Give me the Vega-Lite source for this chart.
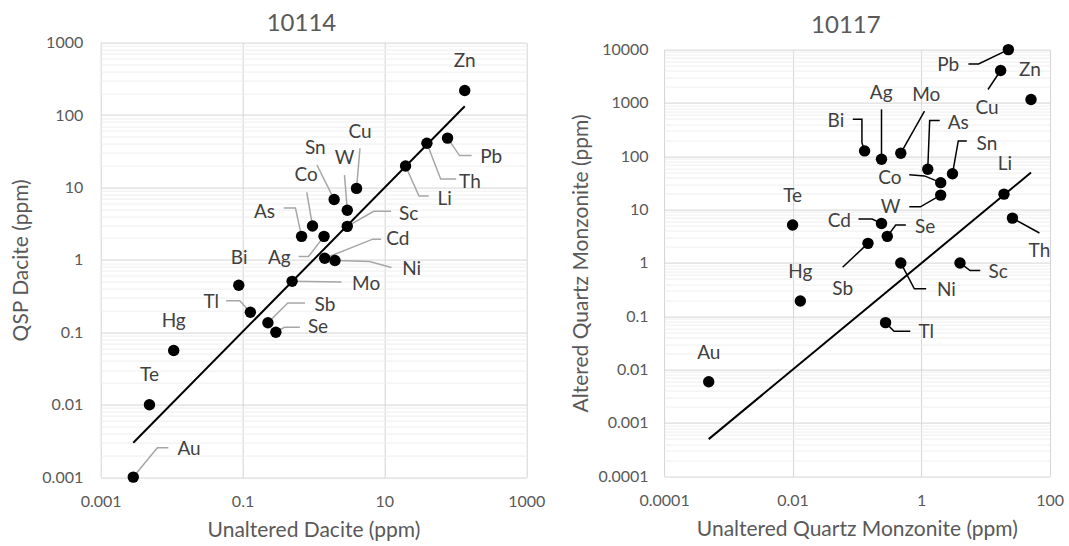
{
  "$schema": "https://vega.github.io/schema/vega-lite/v6.json",
  "background": "white",
  "padding": {"left": 10.7, "top": 11.6, "right": 0, "bottom": 0},
  "spacing": 24.4,
  "datasets": {
    "dacite_pts": [
      {"el": "Zn", "x": 136, "y": 218, "lx": 136, "ly": 556},
      {"el": "Pb", "x": 77.8, "y": 48, "lx": 321, "ly": 26.7},
      {"el": "Th", "x": 39.8, "y": 40.8, "lx": 161, "ly": 12},
      {"el": "Li", "x": 19.9, "y": 19.8, "lx": 71, "ly": 7.0},
      {"el": "Cu", "x": 4.05, "y": 9.7, "lx": 4.53, "ly": 58},
      {"el": "Sn", "x": 1.96, "y": 6.8, "lx": 1.06, "ly": 34.8},
      {"el": "W", "x": 3.0, "y": 4.84, "lx": 2.74, "ly": 25.3},
      {"el": "Sc", "x": 3.0, "y": 2.9, "lx": 22, "ly": 4.3},
      {"el": "Co", "x": 0.97, "y": 2.94, "lx": 0.787, "ly": 14.8},
      {"el": "As", "x": 0.68, "y": 2.11, "lx": 0.204, "ly": 4.6},
      {"el": "Ag", "x": 1.41, "y": 2.11, "lx": 0.33, "ly": 1.05},
      {"el": "Cd", "x": 1.44, "y": 1.05, "lx": 15.5, "ly": 1.91},
      {"el": "Ni", "x": 2.01, "y": 0.98, "lx": 24.2, "ly": 0.75},
      {"el": "Mo", "x": 0.5, "y": 0.505, "lx": 5.53, "ly": 0.464},
      {"el": "Bi", "x": 0.0885, "y": 0.445, "lx": 0.0895, "ly": 1.05},
      {"el": "Tl", "x": 0.129, "y": 0.189, "lx": 0.0362, "ly": 0.262},
      {"el": "Sb", "x": 0.228, "y": 0.135, "lx": 1.45, "ly": 0.235},
      {"el": "Se", "x": 0.295, "y": 0.1, "lx": 1.16, "ly": 0.117},
      {"el": "Hg", "x": 0.0107, "y": 0.0559, "lx": 0.0107, "ly": 0.142},
      {"el": "Te", "x": 0.00487, "y": 0.01, "lx": 0.00487, "ly": 0.026},
      {"el": "Au", "x": 0.00288, "y": 0.001, "lx": 0.0176, "ly": 0.00241}
    ],
    "dacite_leaders": [
      {"el": "Pb", "i": 0, "x": 77.8, "y": 48}, {"el": "Pb", "i": 1, "x": 115, "y": 27.5}, {"el": "Pb", "i": 2, "x": 170, "y": 27.5},
      {"el": "Th", "i": 0, "x": 39.8, "y": 40.8}, {"el": "Th", "i": 1, "x": 62.2, "y": 13.1}, {"el": "Th", "i": 2, "x": 103, "y": 13.1},
      {"el": "Li", "i": 0, "x": 19.9, "y": 19.8}, {"el": "Li", "i": 1, "x": 30.8, "y": 7.59}, {"el": "Li", "i": 2, "x": 42.2, "y": 7.59},
      {"el": "Cu", "i": 0, "x": 4.53, "y": 34.8}, {"el": "Cu", "i": 1, "x": 4.05, "y": 9.7},
      {"el": "Sn", "i": 0, "x": 1.12, "y": 20.4}, {"el": "Sn", "i": 1, "x": 1.96, "y": 6.8},
      {"el": "W", "i": 0, "x": 2.74, "y": 14.8}, {"el": "W", "i": 1, "x": 3.0, "y": 4.84},
      {"el": "Co", "i": 0, "x": 0.805, "y": 8.53}, {"el": "Co", "i": 1, "x": 0.97, "y": 2.94},
      {"el": "As", "i": 0, "x": 0.381, "y": 5.22}, {"el": "As", "i": 1, "x": 0.557, "y": 5.22}, {"el": "As", "i": 2, "x": 0.68, "y": 2.11},
      {"el": "Sc", "i": 0, "x": 3.0, "y": 2.9}, {"el": "Sc", "i": 1, "x": 7.08, "y": 4.69}, {"el": "Sc", "i": 2, "x": 12.4, "y": 4.69},
      {"el": "Cd", "i": 0, "x": 1.44, "y": 1.05}, {"el": "Cd", "i": 1, "x": 6.87, "y": 1.93}, {"el": "Cd", "i": 2, "x": 9.0, "y": 1.93},
      {"el": "Ag", "i": 0, "x": 0.618, "y": 1.11}, {"el": "Ag", "i": 1, "x": 0.851, "y": 1.11}, {"el": "Ag", "i": 2, "x": 1.41, "y": 2.11},
      {"el": "Ni", "i": 0, "x": 2.01, "y": 0.98}, {"el": "Ni", "i": 1, "x": 6.18, "y": 0.95}, {"el": "Ni", "i": 2, "x": 12.6, "y": 0.785},
      {"el": "Mo", "i": 0, "x": 0.5, "y": 0.505}, {"el": "Mo", "i": 1, "x": 2.48, "y": 0.496},
      {"el": "Tl", "i": 0, "x": 0.0586, "y": 0.273}, {"el": "Tl", "i": 1, "x": 0.0914, "y": 0.273}, {"el": "Tl", "i": 2, "x": 0.129, "y": 0.189},
      {"el": "Sb", "i": 0, "x": 0.228, "y": 0.135}, {"el": "Sb", "i": 1, "x": 0.435, "y": 0.254}, {"el": "Sb", "i": 2, "x": 0.76, "y": 0.254},
      {"el": "Se", "i": 0, "x": 0.295, "y": 0.1}, {"el": "Se", "i": 1, "x": 0.39, "y": 0.117}, {"el": "Se", "i": 2, "x": 0.644, "y": 0.117},
      {"el": "Au", "i": 0, "x": 0.00288, "y": 0.001}, {"el": "Au", "i": 1, "x": 0.0063, "y": 0.00254}, {"el": "Au", "i": 2, "x": 0.009, "y": 0.00254}
    ],
    "dacite_trend": [
      {"x": 0.00288, "y": 0.00298},
      {"x": 136, "y": 132}
    ],
    "qm_pts": [
      {"el": "Pb", "x": 22.8, "y": 10000, "lx": 2.64, "ly": 5250},
      {"el": "Cu", "x": 17.3, "y": 4050, "lx": 10.6, "ly": 789},
      {"el": "Zn", "x": 51.4, "y": 1162, "lx": 49.5, "ly": 4110},
      {"el": "Bi", "x": 0.132, "y": 126, "lx": 0.0472, "ly": 457},
      {"el": "Ag", "x": 0.242, "y": 88, "lx": 0.239, "ly": 1548},
      {"el": "Mo", "x": 0.483, "y": 114, "lx": 1.2, "ly": 1380},
      {"el": "As", "x": 1.27, "y": 57, "lx": 3.79, "ly": 426},
      {"el": "Sn", "x": 3.08, "y": 47, "lx": 10.6, "ly": 167},
      {"el": "Co", "x": 2.02, "y": 32, "lx": 0.328, "ly": 39.9},
      {"el": "W", "x": 2.02, "y": 18.7, "lx": 0.336, "ly": 11.0},
      {"el": "Li", "x": 19.5, "y": 19.5, "lx": 20.2, "ly": 70.8},
      {"el": "Th", "x": 26.4, "y": 6.93, "lx": 69.5, "ly": 1.65},
      {"el": "Te", "x": 0.01, "y": 5.13, "lx": 0.01, "ly": 18.2},
      {"el": "Cd", "x": 0.242, "y": 5.5, "lx": 0.0532, "ly": 6.18},
      {"el": "Se", "x": 0.298, "y": 3.15, "lx": 1.16, "ly": 4.77},
      {"el": "Sb", "x": 0.149, "y": 2.33, "lx": 0.0601, "ly": 0.318},
      {"el": "Ni", "x": 0.483, "y": 1, "lx": 2.48, "ly": 0.305},
      {"el": "Sc", "x": 4.03, "y": 1, "lx": 15.8, "ly": 0.671},
      {"el": "Hg", "x": 0.0132, "y": 0.193, "lx": 0.0132, "ly": 0.671},
      {"el": "Tl", "x": 0.28, "y": 0.076, "lx": 1.2, "ly": 0.0509},
      {"el": "Au", "x": 0.000495, "y": 0.00593, "lx": 0.000495, "ly": 0.0209}
    ],
    "qm_leaders": [
      {"el": "Pb", "i": 0, "x": 5.45, "y": 5395}, {"el": "Pb", "i": 1, "x": 7.85, "y": 5395}, {"el": "Pb", "i": 2, "x": 22.8, "y": 10000},
      {"el": "Cu", "i": 0, "x": 17.3, "y": 4050}, {"el": "Cu", "i": 1, "x": 11.0, "y": 1786},
      {"el": "Bi", "i": 0, "x": 0.0865, "y": 492}, {"el": "Bi", "i": 1, "x": 0.12, "y": 492}, {"el": "Bi", "i": 2, "x": 0.12, "y": 180}, {"el": "Bi", "i": 3, "x": 0.132, "y": 126},
      {"el": "Ag", "i": 0, "x": 0.242, "y": 757}, {"el": "Ag", "i": 1, "x": 0.242, "y": 88},
      {"el": "Mo", "i": 0, "x": 1.13, "y": 703}, {"el": "Mo", "i": 1, "x": 0.483, "y": 114},
      {"el": "As", "i": 0, "x": 1.95, "y": 471}, {"el": "As", "i": 1, "x": 1.36, "y": 471}, {"el": "As", "i": 2, "x": 1.27, "y": 57},
      {"el": "Sn", "i": 0, "x": 5.14, "y": 194}, {"el": "Sn", "i": 1, "x": 3.79, "y": 194}, {"el": "Sn", "i": 2, "x": 3.08, "y": 47},
      {"el": "Co", "i": 0, "x": 0.655, "y": 44.8}, {"el": "Co", "i": 1, "x": 1.13, "y": 42.9}, {"el": "Co", "i": 2, "x": 2.02, "y": 32},
      {"el": "W", "i": 0, "x": 0.655, "y": 11.3}, {"el": "W", "i": 1, "x": 0.975, "y": 11.3}, {"el": "W", "i": 2, "x": 2.02, "y": 18.7},
      {"el": "Cd", "i": 0, "x": 0.106, "y": 6.64}, {"el": "Cd", "i": 1, "x": 0.173, "y": 6.64}, {"el": "Cd", "i": 2, "x": 0.242, "y": 5.5},
      {"el": "Se", "i": 0, "x": 0.579, "y": 5.13}, {"el": "Se", "i": 1, "x": 0.403, "y": 5.13}, {"el": "Se", "i": 2, "x": 0.298, "y": 3.15},
      {"el": "Sb", "i": 0, "x": 0.0601, "y": 0.83}, {"el": "Sb", "i": 1, "x": 0.149, "y": 2.33},
      {"el": "Ni", "i": 0, "x": 0.483, "y": 1}, {"el": "Ni", "i": 1, "x": 0.785, "y": 0.328}, {"el": "Ni", "i": 2, "x": 1.2, "y": 0.328},
      {"el": "Sc", "i": 0, "x": 4.03, "y": 1}, {"el": "Sc", "i": 1, "x": 5.79, "y": 0.72}, {"el": "Sc", "i": 2, "x": 8.34, "y": 0.72},
      {"el": "Th", "i": 0, "x": 26.4, "y": 6.93}, {"el": "Th", "i": 1, "x": 69.5, "y": 3.64},
      {"el": "Tl", "i": 0, "x": 0.28, "y": 0.076}, {"el": "Tl", "i": 1, "x": 0.379, "y": 0.0523}, {"el": "Tl", "i": 2, "x": 0.679, "y": 0.0523}
    ],
    "qm_trend": [
      {"x": 0.000495, "y": 0.000498},
      {"x": 51.4, "y": 49.5}
    ]
  },
  "hconcat": [
    {
      "width": 425.5,
      "height": 434.5,
      "title": {"text": "10114", "offset": 0, "dy": 1, "frame": "group", "anchor": "middle", "dx": -12},
      "encoding": {
        "x": {
          "field": "x", "type": "quantitative",
          "scale": {"type": "log", "domain": [0.001, 1000], "nice": false},
          "axis": {
            "title": "Unaltered Dacite (ppm)",
            "values": [0.001, 0.1, 10, 1000],
            "labelExpr": "'' + datum.value",
            "labelPadding": 16.5,
            "titlePadding": 10
          }
        },
        "y": {
          "field": "y", "type": "quantitative",
          "scale": {"type": "log", "domain": [0.001, 1000], "nice": false},
          "axis": {
            "title": "QSP Dacite (ppm)",
            "values": [0.001, 0.002, 0.003, 0.004, 0.005, 0.006, 0.007, 0.008, 0.009,
                       0.01, 0.02, 0.03, 0.04, 0.05, 0.06, 0.07, 0.08, 0.09,
                       0.1, 0.2, 0.3, 0.4, 0.5, 0.6, 0.7, 0.8, 0.9,
                       1, 2, 3, 4, 5, 6, 7, 8, 9,
                       10, 20, 30, 40, 50, 60, 70, 80, 90,
                       100, 200, 300, 400, 500, 600, 700, 800, 900, 1000],
            "labelExpr": "abs(log(datum.value) / LN10 - round(log(datum.value) / LN10)) < 0.001 ? '' + datum.value : ''",
            "gridColor": {"condition": {"test": "abs(log(datum.value) / LN10 - round(log(datum.value) / LN10)) < 0.001", "value": "#d4d4d4"}, "value": "#eeeeee"},
            "labelPadding": 18,
            "titlePadding": 10
          }
        }
      },
      "layer": [
        {
          "data": {"name": "dacite_leaders"},
          "mark": {"type": "line", "color": "#a6a6a6", "strokeWidth": 1.5},
          "encoding": {
            "detail": {"field": "el"},
            "order": {"field": "i", "type": "quantitative"}
          }
        },
        {
          "data": {"name": "dacite_pts"},
          "mark": {"type": "circle", "size": 130, "color": "black", "opacity": 1}
        },
        {
          "data": {"name": "dacite_trend"},
          "mark": {"type": "line", "color": "black", "strokeWidth": 2},
          "encoding": {}
        },
        {
          "data": {"name": "dacite_pts"},
          "mark": {"type": "text", "fontSize": 19, "color": "#404040", "align": "center", "baseline": "middle"},
          "encoding": {
            "x": {"field": "lx", "type": "quantitative"},
            "y": {"field": "ly", "type": "quantitative"},
            "text": {"field": "el"}
          }
        }
      ]
    },
    {
      "title": {"text": "10117", "offset": 3, "dy": -1, "frame": "group", "anchor": "start", "dx": 147},
      "bounds": "flush",
      "spacing": 6,
      "vconcat": [
        {
          "width": 385.5,
          "height": 1,
          "data": {"values": []},
          "mark": "point",
          "encoding": {}
        },
        {
          "width": 385.5,
          "height": 426.7,
          "encoding": {
            "x": {
              "field": "x", "type": "quantitative",
              "scale": {"type": "log", "domain": [0.0001, 100], "nice": false},
              "axis": {
                "title": "Unaltered Quartz Monzonite (ppm)",
                "values": [0.0001, 0.01, 1, 100],
                "labelExpr": "'' + datum.value",
                "labelPadding": 16.5,
                "titlePadding": 10
              }
            },
            "y": {
              "field": "y", "type": "quantitative",
              "scale": {"type": "log", "domain": [0.0001, 10000], "nice": false},
              "axis": {
                "title": "Altered Quartz Monzonite (ppm)",
                "values": [0.0001, 0.0002, 0.0003, 0.0004, 0.0005, 0.0006, 0.0007, 0.0008, 0.0009,
                           0.001, 0.002, 0.003, 0.004, 0.005, 0.006, 0.007, 0.008, 0.009,
                           0.01, 0.02, 0.03, 0.04, 0.05, 0.06, 0.07, 0.08, 0.09,
                           0.1, 0.2, 0.3, 0.4, 0.5, 0.6, 0.7, 0.8, 0.9,
                           1, 2, 3, 4, 5, 6, 7, 8, 9,
                           10, 20, 30, 40, 50, 60, 70, 80, 90,
                           100, 200, 300, 400, 500, 600, 700, 800, 900,
                           1000, 2000, 3000, 4000, 5000, 6000, 7000, 8000, 9000, 10000],
                "labelExpr": "abs(log(datum.value) / LN10 - round(log(datum.value) / LN10)) < 0.001 ? '' + datum.value : ''",
                "gridColor": {"condition": {"test": "abs(log(datum.value) / LN10 - round(log(datum.value) / LN10)) < 0.001", "value": "#d4d4d4"}, "value": "#eeeeee"},
                "labelPadding": 16,
                "titlePadding": 6
              }
            }
          },
          "layer": [
            {
              "data": {"name": "qm_leaders"},
              "mark": {"type": "line", "color": "black", "strokeWidth": 1.5},
              "encoding": {
                "detail": {"field": "el"},
                "order": {"field": "i", "type": "quantitative"}
              }
            },
            {
              "data": {"name": "qm_pts"},
              "mark": {"type": "circle", "size": 130, "color": "black", "opacity": 1}
            },
            {
              "data": {"name": "qm_trend"},
              "mark": {"type": "line", "color": "black", "strokeWidth": 2},
              "encoding": {}
            },
            {
              "data": {"name": "qm_pts"},
              "mark": {"type": "text", "fontSize": 19, "color": "#404040", "align": "center", "baseline": "middle"},
              "encoding": {
                "x": {"field": "lx", "type": "quantitative"},
                "y": {"field": "ly", "type": "quantitative"},
                "text": {"field": "el"}
              }
            }
          ]
        }
      ]
    }
  ],
  "config": {
    "font": "Lato",
    "view": {"stroke": null},
    "axis": {
      "labelFont": "Lato",
      "labelFontSize": 16,
      "labelColor": "#595959",
      "labelFlush": false,
      "labelOverlap": false,
      "titleFont": "Lato",
      "titleFontSize": 21,
      "titleFontWeight": "normal",
      "titleColor": "#595959",
      "ticks": false,
      "domain": false,
      "grid": true,
      "gridColor": "#d4d4d4",
      "gridWidth": 1
    },
    "title": {"font": "Lato", "fontSize": 24, "fontWeight": "normal", "color": "#595959"}
  }
}
